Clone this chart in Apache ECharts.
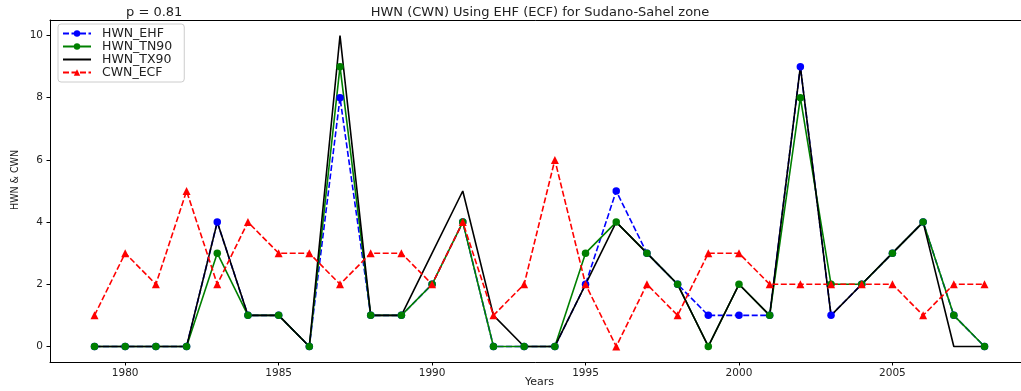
<!DOCTYPE html>
<html>
<head>
<meta charset="utf-8">
<script src="https://cdn.jsdelivr.net/npm/echarts@6/dist/echarts.min.js"></script>
<style>
  html, body { margin: 0; padding: 0; background: #fff; }
  #chart { width: 1021px; height: 391px; }
</style>
</head>
<body>
<div id="chart"></div>
<script>
// Yearly heatwave / cold-wave counts, Sudano-Sahel zone
const years = [1979, 1980, 1981, 1982, 1983, 1984, 1985, 1986, 1987, 1988,
               1989, 1990, 1991, 1992, 1993, 1994, 1995, 1996, 1997, 1998,
               1999, 2000, 2001, 2002, 2003, 2004, 2005, 2006, 2007, 2008];
const hwnEhf  = [0, 0, 0, 0, 4, 1, 1, 0, 8, 1, 1, 2, 4, 0, 0, 0, 2, 5, 3, 2, 1, 1, 1, 9, 1, 2, 3, 4, 1, 0];
const hwnTn90 = [0, 0, 0, 0, 3, 1, 1, 0, 9, 1, 1, 2, 4, 0, 0, 0, 3, 4, 3, 2, 0, 2, 1, 8, 2, 2, 3, 4, 1, 0];
const hwnTx90 = [0, 0, 0, 0, 4, 1, 1, 0, 10, 1, 1, 3, 5, 1, 0, 0, 2, 4, 3, 2, 0, 2, 1, 9, 1, 2, 3, 4, 0, 0];
const cwnEcf  = [1, 3, 2, 5, 2, 4, 3, 3, 2, 3, 3, 2, 4, 1, 2, 6, 2, 0, 2, 1, 3, 3, 2, 2, 2, 2, 2, 1, 2, 2];

const xTicks = [1980, 1985, 1990, 1995, 2000, 2005];
const yTicks = [0, 2, 4, 6, 8, 10];

const titleText = 'HWN (CWN) Using EHF (ECF) for Sudano-Sahel zone';
const corrText = 'p = 0.81';
const yName = 'HWN & CWN';

const pairs = vals => years.map((y, i) => [y, vals[i]]);
const FONT = 'DejaVu Sans';
const TXT = '#222';
const X_MIN = 1977.55, X_MAX = 2009.45;

const chart = echarts.init(document.getElementById('chart'), null, { renderer: 'canvas' });

chart.setOption({
  animation: false,
  backgroundColor: '#fff',
  textStyle: { fontFamily: FONT },
  title: [
    {
      text: titleText, left: 540, top: 6, padding: 0, textAlign: 'center',
      textStyle: { fontFamily: FONT, fontSize: 13, fontWeight: 'normal', color: TXT }
    },
    {
      text: corrText, left: 126, top: 6, padding: 0,
      textStyle: { fontFamily: FONT, fontSize: 13, fontWeight: 'normal', color: TXT }
    }
  ],
  // the right edge of the axes box sits just past the canvas
  grid: {
    left: 50, width: 979, top: 20, bottom: 29,
    outerBoundsMode: 'none', containLabel: false, show: false
  },
  graphic: [{
    type: 'text', x: 15, y: 180, rotation: Math.PI / 2,
    style: {
      text: yName, font: '10.5px "DejaVu Sans Condensed", "Liberation Sans Narrow", "DejaVu Sans"',
      fill: TXT, align: 'center', verticalAlign: 'middle'
    }
  }],
  legend: {
    orient: 'vertical', left: 58, top: 24,
    padding: [3, 12, 3, 4], itemGap: 0, itemWidth: 28, itemHeight: 8,
    borderColor: '#ccc', borderWidth: 1, borderRadius: 3, backgroundColor: 'rgba(255,255,255,0.8)',
    textStyle: { fontFamily: FONT, fontSize: 12.5, lineHeight: 12.7, color: TXT, padding: [0, 0, 0, 6] },
    data: [
      'HWN_EHF',
      'HWN_TN90',
      { name: 'HWN_TX90', itemStyle: { opacity: 0 } },
      'CWN_ECF'
    ]
  },
  xAxis: [
    {
      type: 'value', position: 'bottom', min: X_MIN, max: X_MAX,
      name: 'Years', nameLocation: 'middle', nameGap: 15, nameMoveOverlap: false,
      nameTextStyle: { fontFamily: FONT, fontSize: 11, color: TXT },
      axisLine: { show: true, onZero: false, lineStyle: { color: '#000', width: 1 } },
      axisTick: { show: true, length: 3.5, customValues: xTicks, lineStyle: { color: '#000' } },
      axisLabel: {
        customValues: xTicks, margin: 6, fontFamily: FONT, fontSize: 10.5, color: TXT,
        formatter: v => String(v)
      },
      splitLine: { show: false }
    },
    {
      // top spine of the axes box
      type: 'value', position: 'top', min: X_MIN, max: X_MAX,
      axisLine: { show: true, onZero: false, lineStyle: { color: '#000', width: 1 } },
      axisTick: { show: false }, axisLabel: { show: false }, splitLine: { show: false }
    }
  ],
  yAxis: {
    type: 'value', min: -0.5, max: 10.5,
    axisLine: { show: true, onZero: false, lineStyle: { color: '#000', width: 1 } },
    axisTick: { show: true, length: 3.5, customValues: yTicks, lineStyle: { color: '#000' } },
    axisLabel: { customValues: yTicks, margin: 7, fontFamily: FONT, fontSize: 10.5, color: TXT },
    splitLine: { show: false }
  },
  series: [
    {
      name: 'HWN_EHF', type: 'line', data: pairs(hwnEhf),
      symbol: 'circle', symbolSize: 7.5, showAllSymbol: true,
      lineStyle: { color: '#0000ff', width: 1.6, type: [6, 2.5] },
      itemStyle: { color: '#0000ff' }
    },
    {
      name: 'HWN_TN90', type: 'line', data: pairs(hwnTn90),
      symbol: 'circle', symbolSize: 7.5, showAllSymbol: true,
      lineStyle: { color: '#008000', width: 1.6 },
      itemStyle: { color: '#008000' }
    },
    {
      name: 'HWN_TX90', type: 'line', data: pairs(hwnTx90),
      symbol: 'none',
      lineStyle: { color: '#000000', width: 1.6 },
      itemStyle: { color: '#000000' }
    },
    {
      name: 'CWN_ECF', type: 'line', data: pairs(cwnEcf),
      symbol: 'triangle', symbolSize: 8, showAllSymbol: true,
      lineStyle: { color: '#ff0000', width: 1.6, type: [6, 2.5] },
      itemStyle: { color: '#ff0000' }
    }
  ]
});
</script>
</body>
</html>
